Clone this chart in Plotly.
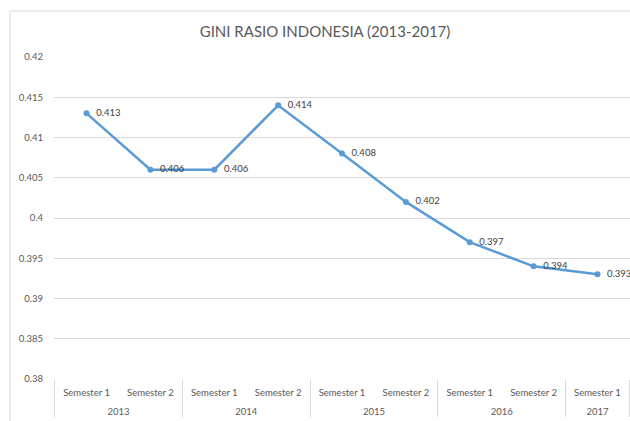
import plotly.graph_objects as go

years = ["2013", "2013", "2014", "2014", "2015", "2015", "2016", "2016", "2017"]
semesters = ["Semester 1", "Semester 2", "Semester 1", "Semester 2", "Semester 1",
             "Semester 2", "Semester 1", "Semester 2", "Semester 1"]
gini = [0.413, 0.406, 0.406, 0.414, 0.408, 0.402, 0.397, 0.394, 0.393]
labels = [f"\u00a0\u00a0{v:.3f}" for v in gini]

W, H = 630, 421
L, R, T, B = 54, 0, 57, 42

fig = go.Figure()
fig.add_trace(go.Scatter(
    x=[[f"<br>{y}" for y in years], semesters], y=gini,
    mode="lines+markers+text",
    line=dict(color="#5B9BD5", width=2.5),
    marker=dict(color="#5B9BD5", size=6),
    text=labels, textposition="middle right",
    textfont=dict(family="Lato, sans-serif", size=9.5, color="#404040"),
    cliponaxis=False,
    hoverinfo="skip",
))

fig.update_layout(
    width=W, height=H,
    margin=dict(l=L, r=R, t=T, b=B),
    paper_bgcolor="white", plot_bgcolor="white",
    showlegend=False,
    font=dict(family="Lato, sans-serif", color="#595959"),
    title=dict(text="GINI RASIO INDONESIA (2013-2017)", x=325 / W, xanchor="center",
               y=1 - 32 / H, yanchor="middle",
               font=dict(family="Lato, sans-serif", size=15, color="#595959")),
)
fig.update_xaxes(
    type="multicategory",
    showgrid=False, zeroline=False,
    showline=False,
    tickfont=dict(size=9.5, color="#595959"),
    showdividers=True, dividercolor="#d9d9d9", dividerwidth=1,
    ticks="",
    ticklabelstandoff=6,
)
fig.update_yaxes(
    range=[0.38, 0.42], dtick=0.005, tick0=0.38,
    showgrid=True, gridcolor="#d9d9d9", gridwidth=1,
    zeroline=False, showline=False,
    tickfont=dict(size=9.5, color="#595959"),
    ticklabelstandoff=10,
)
# chart frame
fig.add_shape(type="rect", xref="paper", yref="paper",
              x0=(10 - L) / (W - L - R), x1=1.2,
              y0=-0.5, y1=1 + (T - 11) / (H - T - B),
              line=dict(color="#d9d9d9", width=1), layer="below")

fig.write_html("out.html")
